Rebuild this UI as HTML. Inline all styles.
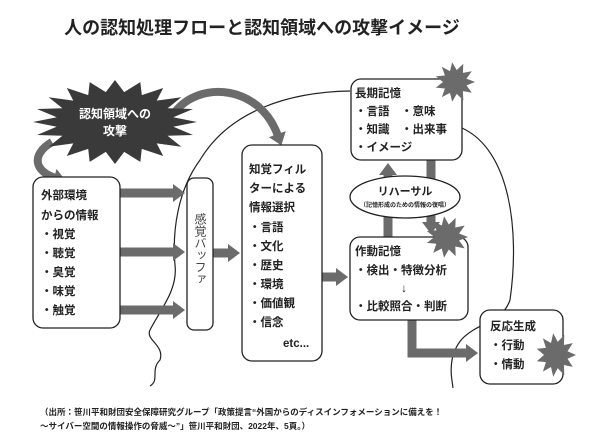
<!DOCTYPE html>
<html><head><meta charset="utf-8"><style>
html,body{margin:0;padding:0;background:#fff}
svg{display:block}
text{font-family:"Liberation Sans","Noto Sans CJK JP",sans-serif;fill:#222;font-weight:bold}
</style></head><body>
<svg width="600" height="446" viewBox="0 0 600 446" xmlns="http://www.w3.org/2000/svg">
<defs>
<marker id="ah" markerWidth="12" markerHeight="18" refX="2" refY="9" orient="auto" markerUnits="userSpaceOnUse"><path d="M0,0 L12,9 L0,18 z" fill="#6b6b6b"/></marker>
</defs>
<text x="262" y="34" font-size="18" text-anchor="middle">人の認知処理フローと認知領域への攻撃イメージ</text>

<path d="M350,91 C290,92 230,110 200,160 C178,190 172,230 175,265 C178,290 160,310 150,330 C145,340 165,345 160,360 C150,370 160,380 150,386" fill="none" stroke="#222" stroke-width="1.2"/>
<path d="M462,128 C510,150 520,230 510,300 C500,330 460,320 452,360 C450,372 452,380 453,388" fill="none" stroke="#222" stroke-width="1.2"/>

<path d="M175,112 C200,80 260,85 278,136" fill="none" stroke="#6b6b6b" stroke-width="8" marker-end="url(#ah)"/>
<path d="M52,142 C30,155 35,172 56,178" fill="none" stroke="#6b6b6b" stroke-width="8" marker-end="url(#ah)"/>

<g stroke="#6b6b6b" stroke-width="9" fill="none">
<line x1="120" y1="193" x2="175" y2="193" marker-end="url(#ah)"/>
<line x1="120" y1="252" x2="175" y2="252" marker-end="url(#ah)"/>
<line x1="120" y1="310" x2="175" y2="310" marker-end="url(#ah)"/>
<line x1="213" y1="253" x2="230" y2="253" marker-end="url(#ah)"/>
<line x1="322" y1="277" x2="338" y2="277" marker-end="url(#ah)"/>
<line x1="388" y1="237" x2="388" y2="173" marker-end="url(#ah)"/>
<line x1="431" y1="160" x2="431" y2="224" marker-end="url(#ah)"/>
<polyline points="412,320 412,353 468,353" marker-end="url(#ah)"/>
</g>

<polygon id="sb" fill="#3a3a3a"/>
<text x="115" y="118" font-size="12" text-anchor="middle" style="fill:#fff">認知領域への</text>
<text x="115" y="135" font-size="12" text-anchor="middle" style="fill:#fff">攻撃</text>

<g fill="#fff" stroke="#222" stroke-width="1.3">
<rect x="33" y="177" width="87" height="151" rx="10"/>
<rect x="187" y="178" width="26" height="152" rx="7"/>
<rect x="242" y="145" width="80" height="216" rx="10"/>
<rect x="351" y="79" width="111" height="81" rx="10"/>
<ellipse cx="405" cy="197" rx="55" ry="21"/>
<rect x="350" y="237" width="118" height="83" rx="10"/>
<rect x="480" y="310" width="83" height="74" rx="10"/>
</g>

<polygon id="s1" fill="#6b6b6b"/>
<polygon id="s2" fill="#6b6b6b"/>
<polygon id="s3" fill="#6b6b6b"/>

<g font-size="11.5">
<text x="41" y="199">外部環境</text>
<text x="41" y="219">からの情報</text>
<text x="41" y="238">・視覚</text>
<text x="41" y="257">・聴覚</text>
<text x="41" y="276">・臭覚</text>
<text x="41" y="295">・味覚</text>
<text x="41" y="314">・触覚</text>

<text x="249" y="173">知覚フィル</text>
<text x="249" y="192">ターによる</text>
<text x="249" y="211">情報選択</text>
<text x="249" y="231">・言語</text>
<text x="249" y="250">・文化</text>
<text x="249" y="269">・歴史</text>
<text x="249" y="288">・環境</text>
<text x="249" y="307">・価値観</text>
<text x="249" y="326">・信念</text>
<text x="283" y="347" font-weight="normal">etc...</text>

<text x="355" y="97">長期記憶</text>
<text x="355" y="115">・言語　・意味</text>
<text x="355" y="133">・知識　・出来事</text>
<text x="355" y="151">・イメージ</text>

<text x="355" y="255">作動記憶</text>
<text x="355" y="274">・検出・特徴分析</text>
<text x="404" y="292" text-anchor="middle" font-weight="normal">↓</text>
<text x="355" y="310">・比較照合・判断</text>

<text x="490" y="330">反応生成</text>
<text x="490" y="349">・行動</text>
<text x="490" y="368">・情動</text>
</g>
<text x="405" y="195" font-size="11" text-anchor="middle">リハーサル</text>
<text x="405" y="207" font-size="6" text-anchor="middle" font-weight="normal">（記憶形成のための情報の復唱）</text>
<text font-size="12" style="writing-mode:tb;font-weight:normal;fill:#444" x="200" y="213">感覚バッファ</text>

<text x="40" y="415" font-size="8.5">（出所：笹川平和財団安全保障研究グループ「政策提言“外国からのディスインフォメーションに備えを！</text>
<text x="40" y="429" font-size="8.5">～サイバー空間の情報操作の脅威～”」笹川平和財団、2022年、5頁。）</text>
</svg>
<script>
function star(id,cx,cy,rx,ry,n,k){var p=[];for(var i=0;i<2*n;i++){var a=Math.PI*i/n;var f=i%2?k:1;p.push((cx+rx*f*Math.cos(a)).toFixed(1)+","+(cy+ry*f*Math.sin(a)).toFixed(1));}document.getElementById(id).setAttribute("points",p.join(" "));}
star("sb",115,122,82,42,20,0.72);
star("s1",455,82,20,20,11,0.6);
star("s2",447,237,21,21,11,0.6);
star("s3",556,355,20,22,11,0.6);
</script>
</body></html>
